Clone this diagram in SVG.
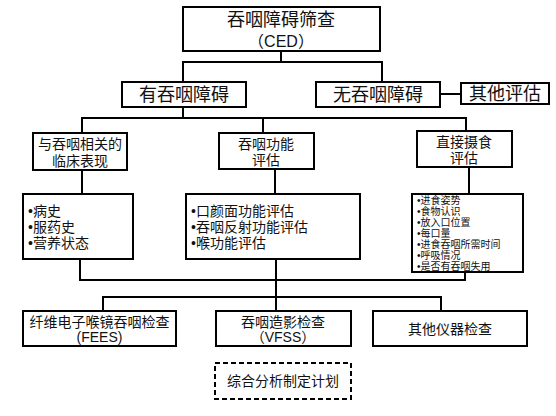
<svg xmlns="http://www.w3.org/2000/svg" width="556" height="416" viewBox="0 0 556 416">
<style>
.box{fill:#fff;stroke:#000;stroke-width:2}
.dash{fill:#fff;stroke:#000;stroke-width:2;stroke-dasharray:5 3}
.ln{fill:none;stroke:#000;stroke-width:2}
text{font-family:"Liberation Sans","Noto Sans CJK SC",sans-serif;fill:#111}
.big{font-size:18px;text-anchor:middle}
.mid{font-size:14px;text-anchor:middle}
.lst{font-size:14px}
.sml{font-size:10px}
</style>
<rect width="556" height="416" fill="#fff"/>
<g id="connectors">
<path class="ln" d="M281 51V62M183 82V62H382V82"/>
<path class="ln" d="M440 94H461"/>
<path class="ln" d="M183 107V118M82 133V118H466V131M263 118V133"/>
<path class="ln" d="M82 170V194M275 169V194M469 167V194"/>
<path class="ln" d="M80 259V280H465V272"/>
<path class="ln" d="M276 259V311M103 311V297H441V311"/>
</g>
<g id="n-screen"><rect class="box" x="183" y="7" width="197" height="44"/><text class="big" x="281" y="26">吞咽障碍筛查</text><text class="big" x="281" y="47" style="font-size:16px">（CED）</text></g>
<g id="n-yes"><rect class="box" x="122" y="82" width="124" height="25"/><text class="big" x="184" y="101">有吞咽障碍</text></g>
<g id="n-no"><rect class="box" x="316" y="82" width="124" height="25"/><text class="big" x="378" y="101">无吞咽障碍</text></g>
<g id="n-other"><rect class="box" x="461" y="83" width="88" height="21"/><text class="big" x="505" y="100">其他评估</text></g>
<g id="n-clin"><rect class="box" x="33" y="133" width="94" height="37"/><text class="mid" x="80" y="149">与吞咽相关的</text><text class="mid" x="80" y="166">临床表现</text></g>
<g id="n-func"><rect class="box" x="219" y="133" width="95" height="36"/><text class="mid" x="266" y="149">吞咽功能</text><text class="mid" x="266" y="165">评估</text></g>
<g id="n-direct"><rect class="box" x="417" y="131" width="95" height="36"/><text class="mid" x="464" y="147">直接摄食</text><text class="mid" x="464" y="163">评估</text></g>
<g id="n-clin-list"><rect class="box" x="23" y="194" width="110" height="65"/><text class="lst" x="28" y="216">•病史</text><text class="lst" x="28" y="232">•服药史</text><text class="lst" x="28" y="248">•营养状态</text></g>
<g id="n-func-list"><rect class="box" x="186" y="194" width="174" height="65"/><text class="lst" x="191" y="216">•口颜面功能评估</text><text class="lst" x="191" y="232">•吞咽反射功能评估</text><text class="lst" x="191" y="248">•喉功能评估</text></g>
<g id="n-direct-list"><rect class="box" x="412" y="194" width="111" height="78"/>
<text class="sml" x="417" y="204">•进食姿势</text>
<text class="sml" x="417" y="215">•食物认识</text>
<text class="sml" x="417" y="226">•放入口位置</text>
<text class="sml" x="417" y="237">•每口量</text>
<text class="sml" x="417" y="248">•进食吞咽所需时间</text>
<text class="sml" x="417" y="259">•呼吸情况</text>
<text class="sml" x="417" y="270">•是否有吞咽失用</text></g>
<g id="n-fees"><rect class="box" x="23" y="311" width="153" height="35"/><text class="mid" x="99.5" y="327">纤维电子喉镜吞咽检查</text><text class="mid" x="99.5" y="342">(FEES)</text></g>
<g id="n-vfss"><rect class="box" x="216" y="311" width="135" height="35"/><text class="mid" x="283" y="327">吞咽造影检查</text><text class="mid" x="283" y="342">（VFSS）</text></g>
<g id="n-instr"><rect class="box" x="373" y="311" width="154" height="35"/><text class="mid" x="450" y="334">其他仪器检查</text></g>
<g id="n-plan"><rect class="dash" x="215" y="363" width="136" height="36"/><text class="mid" x="283" y="386">综合分析制定计划</text></g>
</svg>
